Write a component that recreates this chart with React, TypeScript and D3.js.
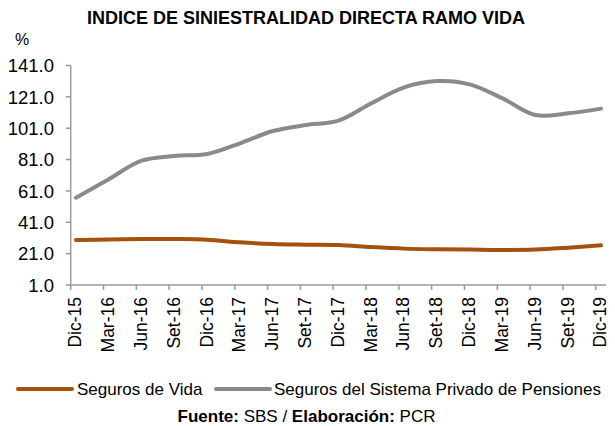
import { useEffect, useRef } from 'react';
import * as d3 from 'd3';

// trimestres (eje x)
const periodos = [
  'Dic-15', 'Mar-16', 'Jun-16', 'Set-16', 'Dic-16', 'Mar-17', 'Jun-17', 'Set-17', 'Dic-17',
  'Mar-18', 'Jun-18', 'Set-18', 'Dic-18', 'Mar-19', 'Jun-19', 'Set-19', 'Dic-19',
];

// índice de siniestralidad directa (%)
const segurosVida = [29.7, 30.0, 30.3, 30.3, 29.9, 28.2, 27.1, 26.7, 26.5, 25.2, 24.2, 23.8, 23.6, 23.4, 23.6, 24.8, 26.3];
const sistemaPrivado = [56.7, 68.5, 80.3, 83.3, 84.6, 91.4, 99.2, 103.0, 105.8, 116.9, 127.1, 131.1, 129.0, 120.0, 109.4, 110.5, 113.5];

const yTicks = [1, 21, 41, 61, 81, 101, 121, 141];

const series = [
  { nombre: 'Seguros de Vida', valores: segurosVida, color: '#a3510e' },
  { nombre: 'Seguros del Sistema Privado de Pensiones', valores: sistemaPrivado, color: '#8a8a8a' },
];

const FONT = '"Liberation Sans", Arial, sans-serif';

export default function App() {
  const svgRef = useRef<SVGSVGElement>(null);

  useEffect(() => {
    if (!svgRef.current) return;
    const svg = d3.select(svgRef.current);
    svg.selectAll('*').remove();

    const axisColor = '#9a9a9a';
    const x0 = 70.7;
    const xEnd = 606;
    const yTop = 65.5;
    const yBottom = 285;

    const x = d3.scalePoint<string>().domain(periodos).range([76, 601]);
    const y = d3.scaleLinear().domain([1, 141]).range([yBottom, yTop]);
    const tickShift = 5.3;

    // título
    svg
      .append('text')
      .attr('x', 306)
      .attr('y', 24)
      .attr('text-anchor', 'middle')
      .style('font-family', FONT)
      .style('font-weight', 'bold')
      .style('font-size', '18px')
      .text('INDICE DE SINIESTRALIDAD DIRECTA RAMO VIDA');

    svg
      .append('text')
      .attr('x', 15)
      .attr('y', 45)
      .style('font-family', FONT)
      .style('font-size', '16px')
      .text('%');

    // eje y
    svg
      .append('line')
      .attr('x1', x0)
      .attr('x2', x0)
      .attr('y1', yTop)
      .attr('y2', yBottom)
      .attr('stroke', axisColor)
      .attr('stroke-width', 1.5);

    const yt = svg.append('g').selectAll('g').data(yTicks).join('g');
    yt.append('line')
      .attr('x1', x0 - 5)
      .attr('x2', x0)
      .attr('y1', (d) => y(d))
      .attr('y2', (d) => y(d))
      .attr('stroke', axisColor)
      .attr('stroke-width', 1.5);
    yt.append('text')
      .attr('x', 54)
      .attr('y', (d) => y(d))
      .attr('dy', '0.36em')
      .attr('text-anchor', 'end')
      .style('font-family', FONT)
      .style('font-size', '18.5px')
      .text((d) => d3.format('.1f')(d));

    // eje x
    svg
      .append('line')
      .attr('x1', x0)
      .attr('x2', xEnd)
      .attr('y1', yBottom)
      .attr('y2', yBottom)
      .attr('stroke', axisColor)
      .attr('stroke-width', 1.5);

    const xt = svg.append('g').selectAll('g').data(periodos).join('g');
    xt.append('line')
      .attr('x1', (d) => (x(d) ?? 0) - tickShift)
      .attr('x2', (d) => (x(d) ?? 0) - tickShift)
      .attr('y1', yBottom)
      .attr('y2', yBottom + 5)
      .attr('stroke', axisColor)
      .attr('stroke-width', 1.5);
    xt.append('text')
      .attr('transform', (d) => `translate(${(x(d) ?? 0) - 1},297) rotate(-90)`)
      .attr('text-anchor', 'end')
      .attr('dy', '0.36em')
      .style('font-family', FONT)
      .style('font-size', '17.5px')
      .text((d) => d);

    // líneas suavizadas
    const line = d3
      .line<number>()
      .x((_, i) => x(periodos[i]) ?? 0)
      .y((d) => y(d))
      .curve(d3.curveCatmullRom.alpha(0.5));

    svg
      .append('g')
      .selectAll('path')
      .data(series)
      .join('path')
      .attr('d', (d) => line(d.valores))
      .attr('fill', 'none')
      .attr('stroke', (d) => d.color)
      .attr('stroke-width', 4)
      .attr('stroke-linecap', 'round');

    // leyenda
    const legendPos = [
      { lx: 18, tx: 77 },
      { lx: 216, tx: 274 },
    ];
    series.forEach((s, i) => {
      const p = legendPos[i];
      svg
        .append('line')
        .attr('x1', p.lx)
        .attr('x2', p.lx + 54)
        .attr('y1', 389)
        .attr('y2', 389)
        .attr('stroke', s.color)
        .attr('stroke-width', 4)
        .attr('stroke-linecap', 'round');
      svg
        .append('text')
        .attr('x', p.tx)
        .attr('y', 394.5)
        .style('font-family', FONT)
        .style('font-size', '17px')
        .text(s.nombre);
    });

    // fuente
    const fuente = svg
      .append('text')
      .attr('x', 306.5)
      .attr('y', 421.5)
      .attr('text-anchor', 'middle')
      .style('font-family', FONT)
      .style('font-size', '17px');
    fuente.append('tspan').style('font-weight', 'bold').text('Fuente:');
    fuente.append('tspan').text(' SBS / ');
    fuente.append('tspan').style('font-weight', 'bold').text('Elaboración:');
    fuente.append('tspan').text(' PCR');
  }, []);

  return (
    <svg
      ref={svgRef}
      width={615}
      height={426}
      style={{ position: 'absolute', left: 0, top: 0, background: '#fff' }}
    />
  );
}
